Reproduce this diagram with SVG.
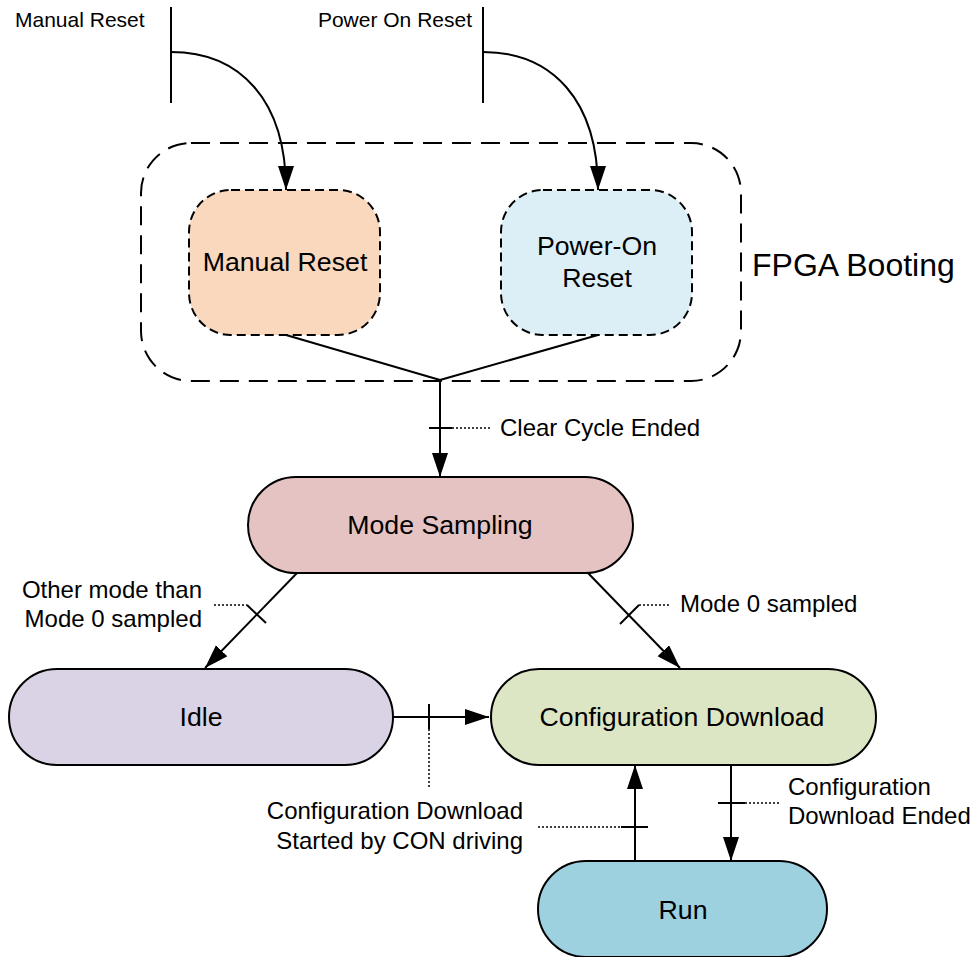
<svg xmlns="http://www.w3.org/2000/svg" width="971" height="957" viewBox="0 0 971 957">
<defs>
<marker id="arr" markerUnits="userSpaceOnUse" markerWidth="26" markerHeight="18" refX="24" refY="8" orient="auto">
<path d="M0,0 L24,8 L0,16 Z" fill="#000"/>
</marker>
<style>
text{font-family:"Liberation Sans",Arial,sans-serif;fill:#000}
.node{stroke:#000;stroke-width:2}
.dnode{stroke:#000;stroke-width:2;stroke-dasharray:9 5}
.nl{font-size:26.7px;text-anchor:middle}
.el{font-size:24px}
.tl{font-size:21px}
.ln{fill:none;stroke:#000;stroke-width:2}
.dot{fill:none;stroke:#000;stroke-width:1.5;stroke-dasharray:2 2}
</style>
</defs>
<rect width="971" height="957" fill="#fff"/>

<g id="fpga-booting">
<rect x="141" y="143" width="600" height="238" rx="50" fill="none" stroke="#000" stroke-width="2" stroke-dasharray="19 10"/>
<text x="752" y="276" font-size="32px">FPGA Booting</text>
</g>

<g id="manual-reset">
<rect class="dnode" x="189" y="190" width="191" height="145" rx="42" fill="#F9D8BE"/>
<text class="nl" x="285" y="271">Manual Reset</text>
</g>

<g id="power-on-reset">
<rect class="dnode" x="501" y="190" width="191" height="145" rx="42" fill="#DCEFF6"/>
<text class="nl" x="597" y="255">Power-On</text>
<text class="nl" x="597" y="287">Reset</text>
</g>

<g id="mode-sampling">
<rect class="node" x="248" y="477" width="385" height="96" rx="48" fill="#E6C3C3"/>
<text class="nl" x="440" y="534">Mode Sampling</text>
</g>

<g id="idle">
<rect class="node" x="9" y="669" width="384" height="96" rx="48" fill="#DAD3E6"/>
<text class="nl" x="201" y="726">Idle</text>
</g>

<g id="configuration-download">
<rect class="node" x="491" y="669" width="385" height="96" rx="48" fill="#DCE6C5"/>
<text class="nl" x="682" y="726">Configuration Download</text>
</g>

<g id="run">
<rect class="node" x="538" y="861" width="289" height="96" rx="48" fill="#9DD1E0"/>
<text class="nl" x="683" y="919">Run</text>
</g>

<g id="connectors">
<!-- external resets -->
<line class="ln" x1="171" y1="7" x2="171" y2="103"/>
<text class="tl" x="15" y="27">Manual Reset</text>
<path class="ln" d="M171,52 C240,52 286,100 286,190" marker-end="url(#arr)"/>
<line class="ln" x1="483" y1="7" x2="483" y2="103"/>
<text class="tl" x="472" y="27" text-anchor="end">Power On Reset</text>
<path class="ln" d="M483,52 C552,52 598,100 598,190" marker-end="url(#arr)"/>

<!-- merge to mode sampling -->
<line class="ln" x1="286" y1="335" x2="440" y2="380"/>
<line class="ln" x1="598" y1="335" x2="440" y2="380"/>
<line class="ln" x1="440" y1="380" x2="440" y2="477" marker-end="url(#arr)"/>
<line class="ln" x1="429" y1="428" x2="452" y2="428"/>
<line class="dot" x1="452" y1="428" x2="490" y2="428"/>
<text class="el" x="500" y="436">Clear Cycle Ended</text>

<!-- mode sampling to idle -->
<line class="ln" x1="297" y1="573" x2="205" y2="668" marker-end="url(#arr)"/>
<line class="ln" x1="247" y1="605" x2="266" y2="623"/>
<line class="dot" x1="214" y1="605" x2="247" y2="605"/>
<text class="el" x="202" y="598" text-anchor="end">Other mode than</text>
<text class="el" x="202" y="627" text-anchor="end">Mode 0 sampled</text>

<!-- mode sampling to configuration download -->
<line class="ln" x1="588" y1="573" x2="680" y2="668" marker-end="url(#arr)"/>
<line class="ln" x1="620" y1="624" x2="639" y2="605"/>
<line class="dot" x1="639" y1="605" x2="670" y2="605"/>
<text class="el" x="680" y="612">Mode 0 sampled</text>

<!-- idle to configuration download -->
<line class="ln" x1="393" y1="717" x2="489" y2="717" marker-end="url(#arr)"/>
<line class="ln" x1="429" y1="704" x2="429" y2="729"/>
<line class="dot" x1="429" y1="729" x2="429" y2="789"/>
<text class="el" x="523" y="819" text-anchor="end">Configuration Download</text>
<text class="el" x="523" y="849" text-anchor="end">Started by CON driving</text>

<!-- run to configuration download -->
<line class="ln" x1="635" y1="861" x2="635" y2="765" marker-end="url(#arr)"/>
<line class="ln" x1="621" y1="827" x2="648" y2="827"/>
<line class="dot" x1="538" y1="827" x2="621" y2="827"/>

<!-- configuration download to run -->
<line class="ln" x1="731" y1="765" x2="731" y2="861" marker-end="url(#arr)"/>
<line class="ln" x1="718" y1="803" x2="745" y2="803"/>
<line class="dot" x1="745" y1="803" x2="779" y2="803"/>
<text class="el" x="788" y="795">Configuration</text>
<text class="el" x="788" y="824">Download Ended</text>
</g>
</svg>
